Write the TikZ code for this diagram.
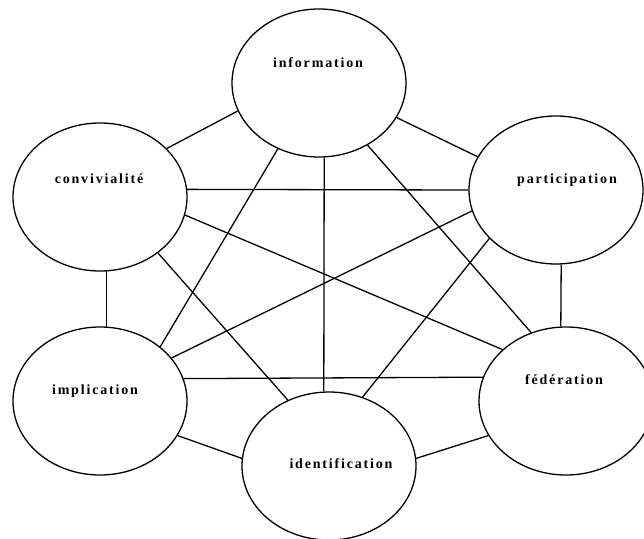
\documentclass[tikz,border=0pt]{standalone}
\usepackage{fontspec}
\newfontfamily\lblfont[LetterSpace=13,UprightFont={* Bold}]{Liberation Serif}
\usetikzlibrary{shapes.geometric}
\begin{document}
\begin{tikzpicture}[x=1pt,y=-1pt,
  bubble/.style={ellipse,draw,line width=1.3pt,minimum width=174pt,minimum height=148pt,inner sep=0pt},
  lbl/.style={font=\lblfont\fontsize{14}{16}\selectfont,inner sep=0pt,anchor=base},
  link/.style={line width=1.3pt}]
\useasboundingbox (0,0) rectangle (644,538);
% ellipses
\node[bubble] (info)   at (319,83)  {};
\node[bubble] (convi)  at (100,197) {};
\node[bubble] (partic) at (556,190) {};
\node[bubble] (impl)   at (100,401) {};
\node[bubble] (fed)    at (566,401) {};
\node[bubble] (ident)  at (329,466) {};
% labels
\node[lbl] (infoT)   at (318,67)  {information};
\node[lbl] (conviT)  at (99,183)  {convivialité};
\node[lbl] (particT) at (567,183) {participation};
\node[lbl] (implT)   at (95,394)  {implication};
\node[lbl] (fedT)    at (564,384) {fédération};
\node[lbl] (identT)  at (341,468) {identification};
% connectors
\draw[link] (info.199) -- (convi.36);
\draw[link] (info.336) -- (partic.157);
\draw[link] (info.238) -- (impl.42);
\draw[link] (info.274) -- (ident.94);
\draw[link] (info.308) -- (fed.117);
\draw[link] (convi.5)  -- (partic.180);
\draw[link] (convi.348) -- (fed.141);
\draw[link] (convi.316) -- (ident.122);
\draw[link] (convi.275) -- (impl.85);
\draw[link] (partic.194) -- (impl.31);
\draw[link] (partic.216) -- (ident.64);
\draw[link] (partic.274) -- (fed.94);
\draw[link] (impl.15) -- (fed.164);
\draw[link] (impl.336) -- (ident.175);
\draw[link] (fed.204) -- (ident.5);
\end{tikzpicture}
\end{document}
